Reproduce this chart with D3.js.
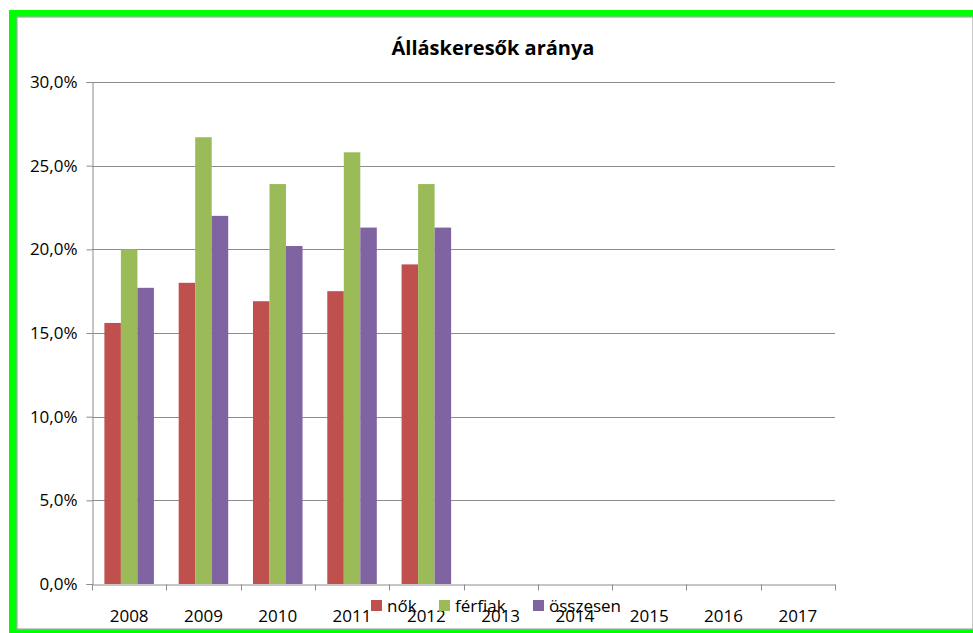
<!DOCTYPE html>
<html>
  <head>
    <meta charset="utf-8" />
    <title>Álláskeresők aránya</title>
    <script src="https://cdn.jsdelivr.net/npm/d3@7"></script>
    <style>
      body { margin: 0; background: #fff; }
      svg text { font-family: 'Open Sans', Lato, sans-serif; fill: #000; }
    </style>
  </head>
  <body>
    <svg id="chart"></svg>
    <script>
      const years = ["2008", "2009", "2010", "2011", "2012", "2013", "2014", "2015", "2016", "2017"]
      const series = ["nők", "férfiak", "összesen"]
      const nok = [15.6, 18.0, 16.9, 17.5, 19.1, null, null, null, null, null]
      const ferfiak = [20.0, 26.7, 23.9, 25.8, 23.9, null, null, null, null, null]
      const osszesen = [17.7, 22.0, 20.2, 21.3, 21.3, null, null, null, null, null]
      const yTicks = [0, 5, 10, 15, 20, 25, 30]
      const colors = ["#c0504d", "#9bbb59", "#8064a2"]

      const width = 973
      const height = 633
      const margin = {top: 82, right: 138, bottom: 49, left: 92}
      const fontFamily = "'Open Sans', Lato, sans-serif"
      const fontSize = 17

      const svg = d3.select("#chart")
        .attr("width", width)
        .attr("height", height)

      // green frame + gray chart border
      svg.append("rect")
        .attr("x", 9).attr("y", 10)
        .attr("width", width - 9).attr("height", height - 10)
        .attr("fill", "#00ff00")
      svg.append("rect")
        .attr("x", 17).attr("y", 17)
        .attr("width", width - 17).attr("height", 612)
        .attr("fill", "#fff")
        .attr("stroke", "#a6a6a6")
        .attr("stroke-width", 1.2)

      const x = d3.scaleBand()
        .domain(years)
        .range([margin.left, width - margin.right])

      const x1 = d3.scaleBand()
        .domain(series)
        .range([0, x.bandwidth()])
        .paddingInner(0)
        .paddingOuter(0.75)

      const y = d3.scaleLinear()
        .domain([0, 30])
        .range([height - margin.bottom, margin.top])

      const fmt = v => d3.format(".1f")(v).replace(".", ",") + "%"

      // gridlines
      svg.append("g")
        .selectAll("line")
        .data(yTicks.slice(1))
        .join("line")
          .attr("x1", margin.left).attr("x2", width - margin.right)
          .attr("y1", d => Math.round(y(d)) + 0.5).attr("y2", d => Math.round(y(d)) + 0.5)
          .attr("stroke", "#8c8c8c")

      // bars
      const table = years.map((yr, i) => ({year: yr, values: [nok[i], ferfiak[i], osszesen[i]]}))
      svg.append("g")
        .selectAll("g")
        .data(table)
        .join("g")
          .attr("transform", d => `translate(${x(d.year)},0)`)
        .selectAll("rect")
        .data(d => d.values.map((v, j) => ({key: series[j], v, j})).filter(e => e.v != null))
        .join("rect")
          .attr("x", d => x1(d.key))
          .attr("width", x1.bandwidth())
          .attr("y", d => y(d.v))
          .attr("height", d => y(0) - y(d.v))
          .attr("fill", d => colors[d.j])

      // y axis
      const yAxis = svg.append("g")
        .attr("transform", `translate(${margin.left + 0.5},0)`)
        .call(d3.axisLeft(y).tickValues(yTicks).tickFormat(fmt).tickSize(6).tickPadding(9))
      yAxis.selectAll("path, line").attr("stroke", "#8c8c8c")
      yAxis.selectAll("text").attr("font-size", fontSize).attr("font-family", fontFamily)

      // x axis
      const xAxis = svg.append("g")
        .attr("transform", `translate(0,${Math.round(y(0)) + 0.5})`)
        .call(d3.axisBottom(x).tickSizeOuter(0).tickSize(0).tickPadding(25))
      xAxis.select(".domain").attr("stroke", "#8c8c8c")
      xAxis.selectAll("text").attr("font-size", fontSize).attr("font-family", fontFamily)
      xAxis.append("g")
        .selectAll("line")
        .data(years.map(d => x(d)).concat([width - margin.right]))
        .join("line")
          .attr("x1", d => Math.round(d) + 0.5).attr("x2", d => Math.round(d) + 0.5)
          .attr("y1", 0).attr("y2", 6)
          .attr("stroke", "#8c8c8c")

      // title
      svg.append("text")
        .attr("x", 493).attr("y", 55)
        .attr("text-anchor", "middle")
        .attr("font-size", 20)
        .attr("font-weight", "bold")
        .text("Álláskeresők aránya")

      // legend
      const legendX = [371, 439, 533]
      const legend = svg.append("g")
        .selectAll("g")
        .data(series)
        .join("g")
          .attr("transform", (d, i) => `translate(${legendX[i]},600)`)
      legend.append("rect")
        .attr("width", 11).attr("height", 11)
        .attr("fill", (d, i) => colors[i])
      legend.append("text")
        .attr("x", 16).attr("y", 12)
        .attr("font-size", fontSize)
        .text(d => d)
    </script>
  </body>
</html>
